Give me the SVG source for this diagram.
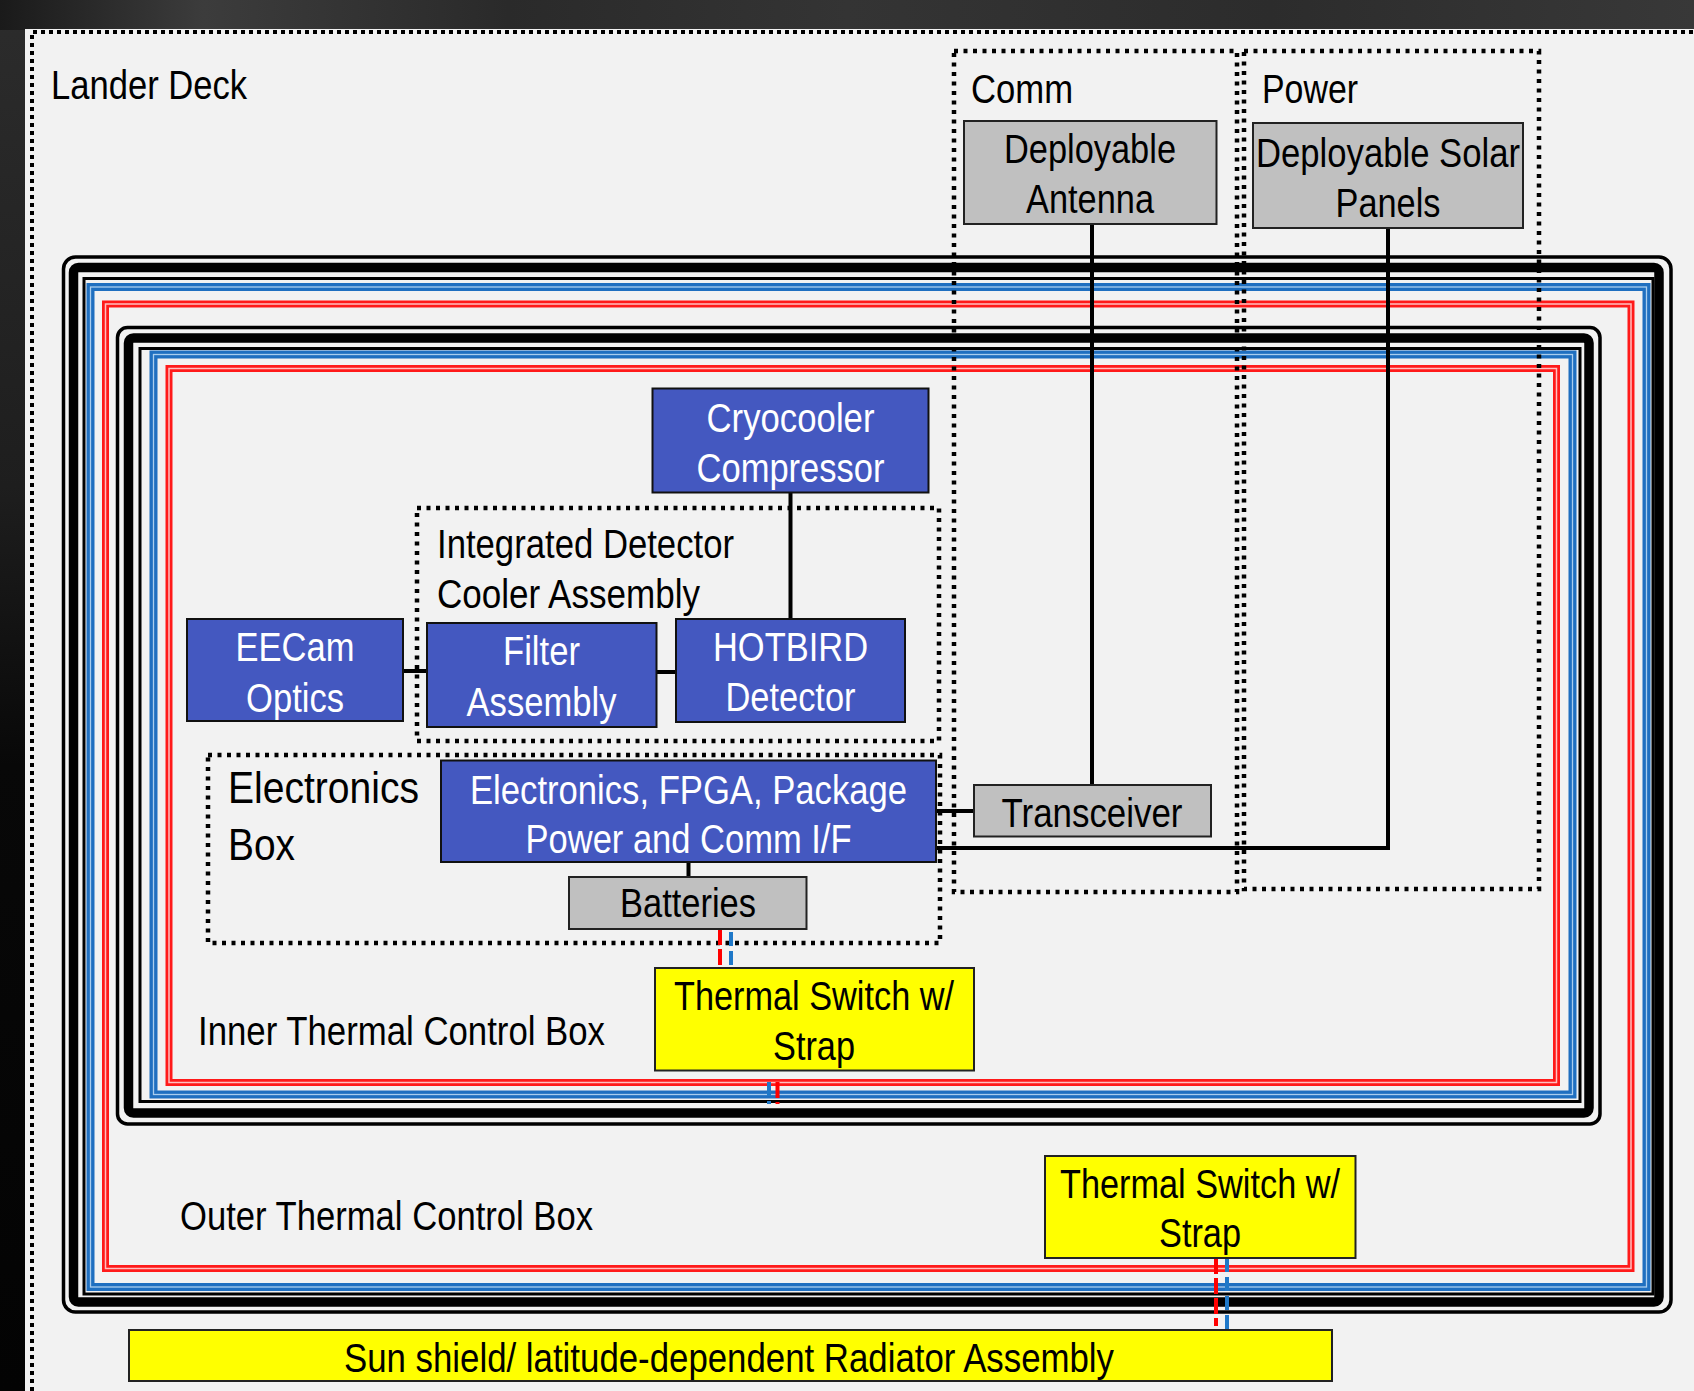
<svg xmlns="http://www.w3.org/2000/svg" width="1694" height="1391" viewBox="0 0 1694 1391">
<defs>
<linearGradient id="bgTop" x1="0" y1="0" x2="1" y2="0">
<stop offset="0" stop-color="#1a1a1a"/>
<stop offset="0.12" stop-color="#3c3c3c"/>
<stop offset="0.3" stop-color="#2a2a2a"/>
<stop offset="0.5" stop-color="#343434"/>
<stop offset="0.75" stop-color="#2c2c2c"/>
<stop offset="1" stop-color="#383838"/>
</linearGradient>
<linearGradient id="bgLeft" x1="0" y1="0" x2="0" y2="1">
<stop offset="0" stop-color="#2c2c2c"/>
<stop offset="0.35" stop-color="#1e1e1e"/>
<stop offset="0.55" stop-color="#080808"/>
<stop offset="1" stop-color="#030303"/>
</linearGradient>
<style>
.t{font-family:"Liberation Sans Narrow","Liberation Sans",Arial,sans-serif;font-size:40px;fill:#000}
.w{fill:#fff}
.c{text-anchor:middle}
.blue{fill:#4458c0;stroke:#111;stroke-width:2}
.grey{fill:#c0c0c0;stroke:#222;stroke-width:2}
.yel{fill:#ffff00;stroke:#222;stroke-width:2}
.dot{fill:none;stroke:#000;stroke-width:4.5;stroke-dasharray:4 5.5}
.dotd{fill:none;stroke:#000;stroke-width:4;stroke-dasharray:4 4}
.conn{fill:none;stroke:#000;stroke-width:4}
.k1{fill:none;stroke:#000;stroke-width:3.5}
.k2{fill:none;stroke:#000;stroke-width:9.5}
.k3{fill:none;stroke:#000;stroke-width:3}
.bl{fill:none;stroke:#1f6fc0;stroke-width:8}
.blc{fill:none;stroke:#a9cdee;stroke-width:1.3}
.rd{fill:none;stroke:#ff1a1a;stroke-width:7}
.rdc{fill:none;stroke:#ffc0c0;stroke-width:1.5}
.rdash{stroke:#ff0000;stroke-width:4;stroke-dasharray:16 4}
.bdash{stroke:#1f78c8;stroke-width:4;stroke-dasharray:14 5}
</style>
</defs>

<rect x="0" y="0" width="1694" height="1391" fill="url(#bgLeft)"/>
<rect x="0" y="0" width="1694" height="30" fill="url(#bgTop)"/>
<rect x="25" y="29" width="1669" height="1362" fill="#f2f2f2"/>

<g id="lander-deck">
<path class="dotd" d="M32,1391 L32,32 L1694,32"/>
<text class="t" x="51" y="99" textLength="196" lengthAdjust="spacingAndGlyphs">Lander Deck</text>
</g>

<g id="outer-thermal-box">
<rect class="k1" x="63.5" y="257" width="1607.5" height="1055" rx="12"/>
<rect class="k2" x="73.5" y="267.5" width="1585.5" height="1034.5" rx="5"/>
<rect class="k3" x="84" y="278.5" width="1569" height="1015.5"/>
<rect class="bl" x="90.5" y="287" width="1556" height="1000"/>
<rect class="blc" x="90.5" y="287" width="1556" height="1000"/>
<rect class="rd" x="105.5" y="304" width="1525.5" height="964.5"/>
<rect class="rdc" x="105.5" y="304" width="1525.5" height="964.5"/>
<text class="t" x="180" y="1230" textLength="413" lengthAdjust="spacingAndGlyphs">Outer Thermal Control Box</text>
</g>

<g id="inner-thermal-box">
<rect class="k1" x="117.5" y="327.5" width="1482.5" height="796.5" rx="10"/>
<rect class="k2" x="128.5" y="338" width="1460.5" height="775" rx="5"/>
<rect class="k3" x="140" y="348.5" width="1440" height="753"/>
<rect class="bl" x="153.5" y="354.5" width="1419" height="740"/>
<rect class="blc" x="153.5" y="354.5" width="1419" height="740"/>
<rect class="rd" x="169" y="368.5" width="1387.5" height="714"/>
<rect class="rdc" x="169" y="368.5" width="1387.5" height="714"/>
<text class="t" x="198" y="1045" textLength="407" lengthAdjust="spacingAndGlyphs">Inner Thermal Control Box</text>
</g>

<g id="comm-group">
<rect class="dot" x="954" y="51" width="283" height="841"/>
<text class="t" x="971" y="103" textLength="102" lengthAdjust="spacingAndGlyphs">Comm</text>
</g>
<g id="power-group">
<rect class="dot" x="1244" y="51" width="295" height="838"/>
<text class="t" x="1262" y="103" textLength="96" lengthAdjust="spacingAndGlyphs">Power</text>
</g>
<g id="idca-group">
<rect class="dot" x="417" y="508" width="522" height="233"/>
<text class="t" x="437" y="558" textLength="297" lengthAdjust="spacingAndGlyphs">Integrated Detector</text>
<text class="t" x="437" y="608" textLength="263" lengthAdjust="spacingAndGlyphs">Cooler Assembly</text>
</g>
<g id="electronics-box-group">
<rect class="dot" x="208" y="755" width="732" height="188"/>
<text class="t" x="228" y="803" style="font-size:44px" textLength="191" lengthAdjust="spacingAndGlyphs">Electronics</text>
<text class="t" x="228" y="860" style="font-size:44px" textLength="67" lengthAdjust="spacingAndGlyphs">Box</text>
</g>

<g id="connectors">
<line class="conn" x1="1092" y1="224" x2="1092" y2="785"/>
<polyline class="conn" points="1388,228 1388,848 936,848"/>
<line class="conn" x1="936" y1="811" x2="974" y2="811"/>
<line class="conn" x1="790.5" y1="492" x2="790.5" y2="619"/>
<line class="conn" x1="403" y1="671" x2="427" y2="671"/>
<line class="conn" x1="656.5" y1="672" x2="676" y2="672"/>
<line class="conn" x1="688.5" y1="862" x2="688.5" y2="877"/>
<line class="rdash" x1="720" y1="929" x2="720" y2="967"/>
<line class="bdash" x1="731" y1="932" x2="731" y2="967"/>
<line class="bdash" x1="769" y1="1082" x2="769" y2="1104"/>
<line class="rdash" x1="777.5" y1="1082" x2="777.5" y2="1104"/>
<line class="rdash" x1="1216" y1="1258" x2="1216" y2="1326"/>
<line class="bdash" x1="1227" y1="1258" x2="1227" y2="1330"/>
</g>

<g id="deployable-antenna">
<rect class="grey" x="964" y="121" width="252.5" height="103"/>
<text class="t c" x="1090" y="163" textLength="172" lengthAdjust="spacingAndGlyphs">Deployable</text>
<text class="t c" x="1090" y="213" textLength="128" lengthAdjust="spacingAndGlyphs">Antenna</text>
</g>
<g id="deployable-solar-panels">
<rect class="grey" x="1253" y="123" width="270" height="105"/>
<text class="t c" x="1388" y="167" textLength="264" lengthAdjust="spacingAndGlyphs">Deployable Solar</text>
<text class="t c" x="1388" y="217" textLength="105" lengthAdjust="spacingAndGlyphs">Panels</text>
</g>
<g id="cryocooler-compressor">
<rect class="blue" x="652.5" y="388.5" width="276" height="104"/>
<text class="t c w" x="790.5" y="432" textLength="168" lengthAdjust="spacingAndGlyphs">Cryocooler</text>
<text class="t c w" x="790.5" y="482" textLength="188" lengthAdjust="spacingAndGlyphs">Compressor</text>
</g>
<g id="eecam-optics">
<rect class="blue" x="187" y="619" width="216" height="102"/>
<text class="t c w" x="295" y="661" textLength="119" lengthAdjust="spacingAndGlyphs">EECam</text>
<text class="t c w" x="295" y="712" textLength="98" lengthAdjust="spacingAndGlyphs">Optics</text>
</g>
<g id="filter-assembly">
<rect class="blue" x="427" y="623" width="229.5" height="104"/>
<text class="t c w" x="541.5" y="665" textLength="77" lengthAdjust="spacingAndGlyphs">Filter</text>
<text class="t c w" x="541.5" y="716" textLength="150" lengthAdjust="spacingAndGlyphs">Assembly</text>
</g>
<g id="hotbird-detector">
<rect class="blue" x="676" y="619" width="229" height="103"/>
<text class="t c w" x="790.5" y="661" textLength="155" lengthAdjust="spacingAndGlyphs">HOTBIRD</text>
<text class="t c w" x="790.5" y="711" textLength="130" lengthAdjust="spacingAndGlyphs">Detector</text>
</g>
<g id="electronics-fpga">
<rect class="blue" x="441" y="760.5" width="495" height="101.5"/>
<text class="t c w" x="688.5" y="804" textLength="437" lengthAdjust="spacingAndGlyphs">Electronics, FPGA, Package</text>
<text class="t c w" x="688.5" y="853" textLength="326" lengthAdjust="spacingAndGlyphs">Power and Comm I/F</text>
</g>
<g id="batteries">
<rect class="grey" x="569" y="877" width="237.5" height="52"/>
<text class="t c" x="688" y="917" textLength="136" lengthAdjust="spacingAndGlyphs">Batteries</text>
</g>
<g id="transceiver">
<rect class="grey" x="974" y="785" width="237" height="51.5"/>
<text class="t c" x="1092" y="827" textLength="181" lengthAdjust="spacingAndGlyphs">Transceiver</text>
</g>
<g id="thermal-switch-inner">
<rect class="yel" x="655" y="968" width="319" height="102.5"/>
<text class="t c" x="814" y="1010" textLength="280" lengthAdjust="spacingAndGlyphs">Thermal Switch w/</text>
<text class="t c" x="814" y="1060" textLength="82" lengthAdjust="spacingAndGlyphs">Strap</text>
</g>
<g id="thermal-switch-outer">
<rect class="yel" x="1045" y="1156" width="310.5" height="102"/>
<text class="t c" x="1200" y="1198" textLength="280" lengthAdjust="spacingAndGlyphs">Thermal Switch w/</text>
<text class="t c" x="1200" y="1247" textLength="82" lengthAdjust="spacingAndGlyphs">Strap</text>
</g>
<g id="sun-shield">
<rect class="yel" x="129" y="1330" width="1203" height="51"/>
<text class="t c" x="729" y="1372" textLength="770" lengthAdjust="spacingAndGlyphs">Sun shield/ latitude-dependent Radiator Assembly</text>
</g>
</svg>
